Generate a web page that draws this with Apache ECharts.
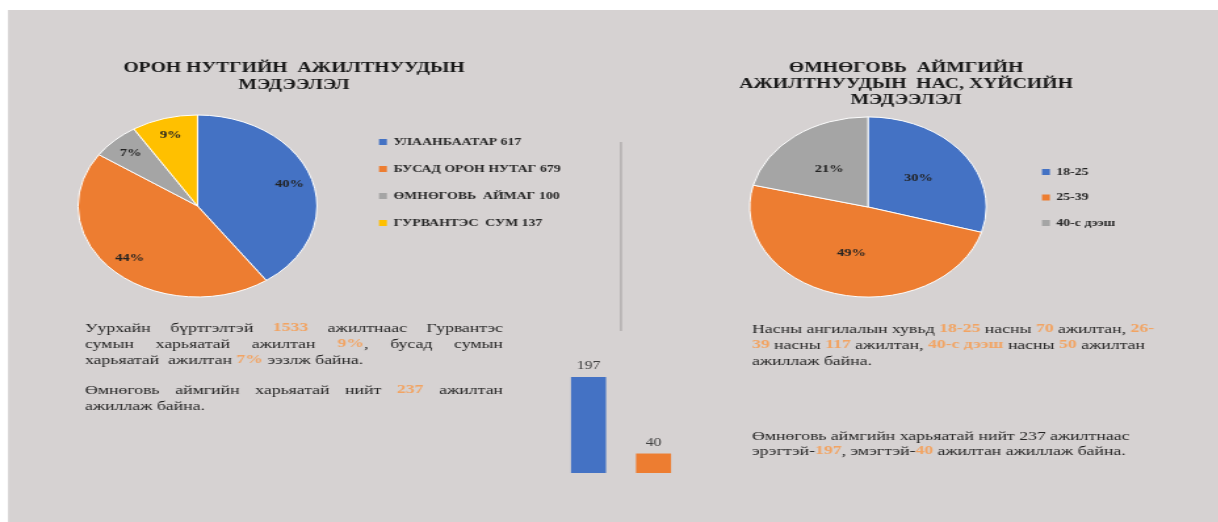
<!DOCTYPE html>
<html>
<head>
<meta charset="utf-8">
<script src="https://cdn.jsdelivr.net/npm/echarts@6/dist/echarts.min.js"></script>
<style>
  html, body { margin: 0; padding: 0; background: #ffffff; overflow: hidden; }
  #wrap { position: absolute; left: 0; top: 0; height: 522px; transform-origin: 0 0; }
  #chart { width: 100%; height: 100%; }
</style>
</head>
<body>
<div id="wrap"><div id="chart"></div></div>
<script>
// ---------------- DATA ----------------
const categoriesOrigin = ['УЛААНБААТАР', 'БУСАД ОРОН НУТАГ', 'ӨМНӨГОВЬ  АЙМАГ', 'ГУРВАНТЭС  СУМ'];
const valuesOrigin = [617, 679, 100, 137];
const colorsOrigin = ['#4472c4', '#ed7d31', '#a5a5a5', '#ffc000'];

const categoriesAge = ['18-25', '25-39', '40-с дээш'];
const valuesAge = [70, 117, 50];
const colorsAge = ['#4472c4', '#ed7d31', '#a5a5a5'];

const categoriesGender = ['Эрэгтэй', 'Эмэгтэй'];
const valuesGender = [197, 40];
const colorsGender = ['#4472c4', '#ed7d31'];

const titleOrigin = ['ОРОН НУТГИЙН  АЖИЛТНУУДЫН', 'МЭДЭЭЛЭЛ'];
const titleAge = ['ӨМНӨГОВЬ  АЙМГИЙН', 'АЖИЛТНУУДЫН  НАС, ХҮЙСИЙН', 'МЭДЭЭЛЭЛ'];

// {..} marks highlighted (orange) parts; flag = justified line
const textLeft = [
  ['Уурхайн бүртгэлтэй {1533} ажилтнаас Гурвантэс', true],
  ['сумын харьяатай ажилтан {9%}, бусад сумын', true],
  ['харьяатай  ажилтан {7%} ээзлж байна.', false],
  ['Өмнөговь аймгийн харьяатай нийт {237} ажилтан', true],
  ['ажиллаж байна.', false]
];
const textRight = [
  ['Насны ангилалын хувьд {18-25} насны {70} ажилтан, {26-}', false],
  ['{39} насны {117} ажилтан, {40-с дээш} насны {50} ажилтан', false],
  ['ажиллаж байна.', false],
  ['Өмнөговь аймгийн харьяатай нийт 237 ажилтнаас', false],
  ['эрэгтэй-{197}, эмэгтэй-{40} ажилтан ажиллаж байна.', false]
];

// ---------------- LAYOUT ----------------
const S = 1.313;                 // horizontal stretch of the reference picture
const W = 1218 / S;
const wrap = document.getElementById('wrap');
wrap.style.width = W + 'px';
wrap.style.transform = 'scaleX(' + S + ')';

const FAMILY = 'Liberation Serif';
const FS = 13.5;
const DARK = '#262626';
const ORANGE = '#f2a463';
const R = 91;

const cv = document.createElement('canvas').getContext('2d');
function measure(t, bold) {
  cv.font = (bold ? 'bold ' : 'normal ') + FS + 'px ' + FAMILY;
  return cv.measureText(t).width;
}
function parseSegs(line) {
  const segs = [];
  const re = /\{([^}]*)\}/g;
  let last = 0, m;
  while ((m = re.exec(line))) {
    if (m.index > last) segs.push({ t: line.slice(last, m.index), o: false });
    segs.push({ t: m[1], o: true });
    last = re.lastIndex;
  }
  if (last < line.length) segs.push({ t: line.slice(last), o: false });
  return segs;
}
function toRich(segs) {
  return segs.map(s => '{' + (s.o ? 'o' : 'n') + '|' + s.t + '}').join('');
}
const richStyles = {
  n: { fill: DARK, fontSize: FS, fontFamily: FAMILY, fontWeight: 'normal' },
  o: { fill: ORANGE, fontSize: FS, fontFamily: FAMILY, fontWeight: 'bold' }
};
function segWidth(segs) { return segs.reduce((a, s) => a + measure(s.t, s.o), 0); }
function textEl(x, y, segs) {
  return { type: 'text', x: x, y: y, z: 20, silent: true,
    style: { text: toRich(segs), rich: richStyles, fontFamily: FAMILY, fontSize: FS,
      fill: DARK, align: 'left', verticalAlign: 'middle' } };
}

function paragraph(lines, x0, x1, ys) {
  const out = [];
  lines.forEach((ln, i) => {
    const segs = parseSegs(ln[0]);
    const y = ys[i];
    if (!ln[1]) { out.push(textEl(x0, y, segs)); return; }
    const words = [];
    let cur = [];
    segs.forEach(s => {
      s.t.split(' ').forEach((p, k) => {
        if (k > 0) { if (cur.length) words.push(cur); cur = []; }
        if (p.length) cur.push({ t: p, o: s.o });
      });
    });
    if (cur.length) words.push(cur);
    const widths = words.map(segWidth);
    const total = widths.reduce((a, b) => a + b, 0);
    const gap = words.length > 1 ? (x1 - x0 - total) / (words.length - 1) : 0;
    let x = x0;
    words.forEach((w, k) => { out.push(textEl(x, y, w)); x += widths[k] + gap; });
  });
  return out;
}

function titleLines(lines, cx, ys) {
  return lines.map((t, i) => ({
    type: 'text', x: cx, y: ys[i], z: 20, silent: true,
    style: { text: t, fill: '#1a1a1a', fontFamily: FAMILY, fontWeight: 'bold', fontSize: 15,
      align: 'center', verticalAlign: 'middle' }
  }));
}

const graphics = [
  { type: 'rect', z: -10, silent: true,
    shape: { x: 8 / S, y: 10, width: W, height: 522 },
    style: { fill: '#d6d2d2' } },
  { type: 'line', z: 5, silent: true,
    shape: { x1: 621 / S, y1: 142, x2: 621 / S, y2: 331 },
    style: { stroke: '#a29e9e', lineWidth: 1 } }
]
  .concat(titleLines(titleOrigin, 294 / S, [68, 85]))
  .concat(titleLines(titleAge, 906 / S, [68, 84, 100]))
  .concat(paragraph(textLeft, 85 / S, 503 / S, [328, 344, 360, 390, 406]))
  .concat(paragraph(textRight, 752 / S, 1160 / S, [329, 345, 361, 436, 451]));

const pct = p => Math.round(p.percent) + '%';
const pieLabel = { fontFamily: FAMILY, fontWeight: 'bold', fontSize: 11, color: '#222' };
const legendText = { fontFamily: FAMILY, fontWeight: 'bold', fontSize: 10.5, lineHeight: 12, color: '#262626' };

const option = {
  animation: false,
  graphic: graphics,
  legend: [
    {
      orient: 'vertical', left: 379 / S, top: 136, padding: 0,
      data: categoriesOrigin, icon: 'rect', itemWidth: 6, itemHeight: 6, itemGap: 15,
      itemStyle: { borderWidth: 0 },
      selectedMode: false,
      formatter: name => name + ' ' + valuesOrigin[categoriesOrigin.indexOf(name)],
      textStyle: legendText
    },
    {
      orient: 'vertical', left: 1042 / S, top: 166, padding: 0,
      data: categoriesAge, icon: 'rect', itemWidth: 6, itemHeight: 6, itemGap: 13.5,
      itemStyle: { borderWidth: 0 },
      selectedMode: false,
      textStyle: legendText
    }
  ],
  grid: { left: 556 / S, width: 130 / S, top: 375.6, bottom: 49, containLabel: false },
  xAxis: { type: 'category', data: categoriesGender, show: false },
  yAxis: { type: 'value', min: 0, max: 200, show: false },
  series: [
    {
      type: 'pie', name: 'origin', center: [197.5 / S, 206], radius: [0, R],
      startAngle: 90, clockwise: true, silent: true,
      itemStyle: { borderColor: '#ffffff', borderWidth: 1 },
      label: { show: false }, labelLine: { show: false },
      data: categoriesOrigin.map((c, i) => ({ name: c, value: valuesOrigin[i], itemStyle: { color: colorsOrigin[i] } }))
    },
    {
      type: 'pie', name: 'originLabels', center: [197.5 / S, 206], radius: [R * 0.55, R],
      startAngle: 90, clockwise: true, silent: true, z: 3,
      itemStyle: { color: 'rgba(0,0,0,0)', borderWidth: 0 },
      label: Object.assign({ show: true, position: 'inside', formatter: pct }, pieLabel),
      labelLine: { show: false },
      data: valuesOrigin.map((v, i) => ({ name: 'lbl' + i, value: v }))
    },
    {
      type: 'pie', name: 'age', center: [868 / S, 207], radius: [0, R * 0.99],
      startAngle: 90, clockwise: true, silent: true,
      itemStyle: { borderColor: '#ffffff', borderWidth: 1 },
      label: Object.assign({ show: true, position: 'inside', formatter: pct }, pieLabel),
      labelLine: { show: false },
      data: categoriesAge.map((c, i) => ({ name: c, value: valuesAge[i], itemStyle: { color: colorsAge[i] } }))
    },
    {
      type: 'bar', name: 'gender', barWidth: 35 / S, silent: true,
      data: valuesGender.map((v, i) => ({ value: v, itemStyle: { color: colorsGender[i] } })),
      label: { show: true, position: 'top', distance: 5, fontFamily: FAMILY, fontSize: 12, color: '#404040' }
    }
  ]
};

const chart = echarts.init(document.getElementById('chart'), null, { renderer: 'canvas' });
chart.setOption(option);
</script>
</body>
</html>
